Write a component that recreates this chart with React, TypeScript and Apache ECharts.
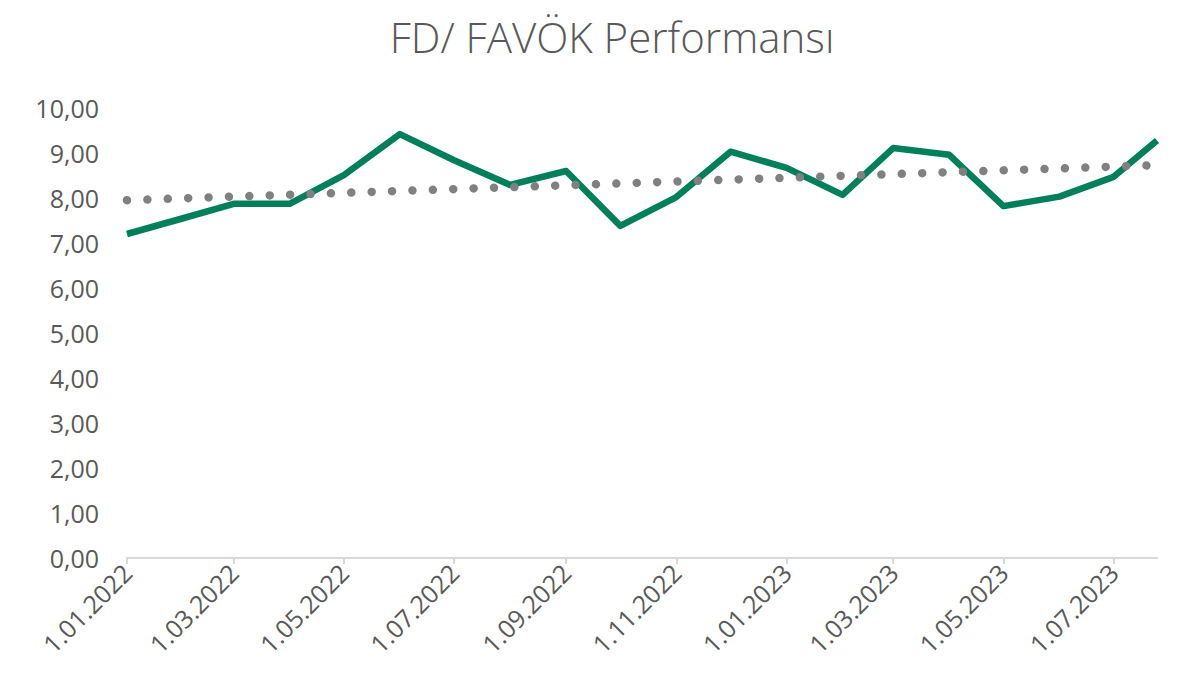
import React, { useEffect, useRef } from "react";
import * as echarts from "echarts";

const dates = [
  "2022-01-01", "2022-02-01", "2022-03-01", "2022-04-01", "2022-05-01",
  "2022-06-01", "2022-07-01", "2022-08-01", "2022-09-01", "2022-10-01",
  "2022-11-01", "2022-12-01", "2023-01-01", "2023-02-01", "2023-03-01",
  "2023-04-01", "2023-05-01", "2023-06-01", "2023-07-01", "2023-07-25",
];
const fdFavok = [
  7.2, 7.55, 7.87, 7.87, 8.51, 9.42, 8.84, 8.29, 8.6, 7.38, 8.02, 9.03, 8.67,
  8.07, 9.11, 8.96, 7.82, 8.03, 8.47, 9.28,
];
const trendDates = ["2022-01-01", "2023-07-25"];
const trendValues = [7.95, 8.73];
const tickDates = [
  "2022-01-01", "2022-03-01", "2022-05-01", "2022-07-01", "2022-09-01",
  "2022-11-01", "2023-01-01", "2023-03-01", "2023-05-01", "2023-07-01",
];
const yTicks = [0, 10, 1]; // min, max, interval

const toTs = (s: string) => {
  const [y, mo, d] = s.split("-").map(Number);
  return new Date(y, mo - 1, d).getTime();
};
const pad = (n: number) => (n < 10 ? "0" + n : "" + n);
const fmtDate = (v: number) => {
  const d = new Date(v);
  return `${d.getDate()}.${pad(d.getMonth() + 1)}.${d.getFullYear()}`;
};

const FONT = "'Open Sans', sans-serif";
const TEXT = "#595959";

export default function App() {
  const ref = useRef<HTMLDivElement>(null);
  useEffect(() => {
    document.body.style.margin = "0";
    if (!ref.current) return;
    const chart = echarts.init(ref.current, null, { renderer: "svg" });
    chart.setOption({
      animation: false,
      backgroundColor: "#ffffff",
      title: {
        text: "FD/ FAVÖK Performansı",
        left: 607,
        top: 10,
        textAlign: "center",
        textStyle: {
          fontFamily: FONT,
          fontSize: 42,
          fontWeight: 300,
          color: TEXT,
        },
      },
      grid: { left: 127, right: 24, top: 108, bottom: 138 },
      xAxis: {
        type: "value",
        min: toTs(dates[0]),
        max: toTs(dates[dates.length - 1]),
        axisLine: { show: true, lineStyle: { color: "#d9d9d9", width: 2 } },
        axisTick: {
          show: true,
          length: 6,
          lineStyle: { color: "#d9d9d9", width: 2 },
          customValues: tickDates.map(toTs),
        },
        axisLabel: {
          rotate: 45,
          margin: 10,
          fontFamily: FONT,
          fontSize: 25,
          color: TEXT,
          customValues: tickDates.map(toTs),
          formatter: (v: number) => fmtDate(v),
        },
        splitLine: { show: false },
      },
      yAxis: {
        type: "value",
        min: yTicks[0],
        max: yTicks[1],
        interval: yTicks[2],
        axisLine: { show: false },
        axisTick: { show: false },
        splitLine: { show: false },
        axisLabel: {
          margin: 28,
          fontFamily: FONT,
          fontSize: 25,
          color: TEXT,
          formatter: (v: number) => v.toFixed(2).replace(".", ","),
        },
      },
      series: [
        {
          type: "line",
          data: dates.map((m, i) => [toTs(m), fdFavok[i]]),
          showSymbol: false,
          lineStyle: { color: "#00805a", width: 6.5, join: "round" },
          z: 2,
        },
        {
          type: "line",
          data: trendDates.map((m, i) => [toTs(m), trendValues[i]]),
          showSymbol: false,
          lineStyle: {
            color: "#808080",
            width: 8.5,
            type: [0.001, 20.4],
            cap: "round",
          },
          z: 3,
        },
      ],
    });
    return () => chart.dispose();
  }, []);
  return <div ref={ref} style={{ width: 1181, height: 696 }} />;
}
